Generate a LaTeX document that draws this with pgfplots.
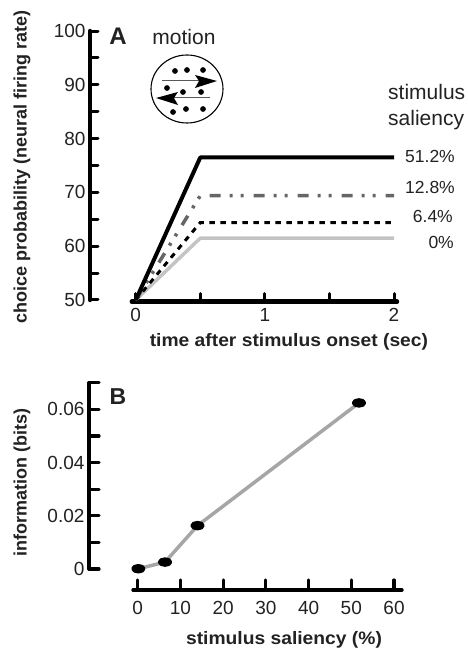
\documentclass[border=0pt]{standalone}
\usepackage{pgfplots}
\pgfplotsset{compat=1.18}
\usepackage{fontspec}
\setmainfont{Liberation Sans}
\usetikzlibrary{arrows.meta}
\definecolor{txt}{HTML}{222222}
\pgfplotsset{
  panel/.style={
    scale only axis, clip=false,
    axis x line*=bottom, axis y line*=left,
    axis line style={draw=none},
    tick align=inside,
    tick style={black,line cap=round},
    /pgf/number format/assume math mode=true,
    scaled y ticks=false,
    tick label style={font=\fontsize{19}{20}\selectfont,text=txt},
    label style={font=\bfseries\fontsize{18}{20}\selectfont,text=txt},
    yticklabel shift=1pt,
  }
}
\begin{document}
\begin{tikzpicture}[x=1pt,y=1pt]
\path[use as bounding box] (0,0) rectangle (468,649);
% Panel A
\begin{axis}[panel,
  at={(90pt,347.3pt)}, anchor=south west,
  width=307pt, height=270.7pt,
  xmin=-0.354, xmax=2.023, ymin=49.68, ymax=100,
  major tick length=8pt,
  tick style={black,line cap=round,line width=3pt},
  xtick={0,0.5,1,1.5,2}, xticklabels={0,,1,,2},
  ytick={50,55,60,65,70,75,80,85,90,95,100},
  yticklabels={50,,60,,70,,80,,90,,100},
  xticklabel shift=3pt,
  xlabel={\scalebox{1.07}[1]{time after stimulus onset (sec)}},
  ylabel={choice probability (neural firing rate)},
  xlabel style={at={(axis description cs:0.648,-0.148)},anchor=center},
  ylabel style={at={(axis description cs:-0.2215,0.498)},anchor=center,rotate=0},
]
\draw[line width=4.5pt,line cap=round] (axis cs:-0.354,50) -- (axis cs:-0.354,100);
\draw[line width=4.5pt,line cap=round] (axis cs:-0.03,49.68) -- (axis cs:2.023,49.68);
\addplot[color=black!23,line width=3.5pt,line join=round] coordinates {(0,50) (0.5,61.5) (2,61.5)};
\addplot[color=black,line width=3pt,dash pattern=on 5.5pt off 5.5pt] coordinates {(0,50) (0.5,64.4) (2,64.4)};
\addplot[color=black!60,line width=3.5pt,dash pattern=on 11pt off 9pt on 3pt off 8pt on 3pt off 10pt] coordinates {(0,50) (0.5,69.4) (2,69.4)};
\addplot[color=black,line width=4pt,line join=round] coordinates {(0,50) (0.5,76.5) (2,76.5)};
% stimulus dots of the motion icon
\addplot[only marks,mark=*,mark size=2.6pt,mark options={fill=black,draw=black}] coordinates {
 (0.304,92.57) (0.397,92.75) (0.521,92.75)
 (0.242,89.4) (0.366,88.66) (0.506,88.66)
 (0.289,84.94) (0.389,85.5) (0.521,85.5)};
\end{axis}
% Panel B
\begin{axis}[panel,
  at={(89pt,59pt)}, anchor=south west,
  width=313pt, height=207.3pt,
  xmin=-11.4, xmax=61.87, ymin=-0.00789, ymax=0.07,
  major tick length=10pt,
  tick style={black,line cap=round,line width=3.2pt},
  xtick={0,10,20,30,40,50,60},
  ytick={0,0.01,0.02,0.03,0.04,0.05,0.06,0.07},
  yticklabels={0,,0.02,,0.04,,0.06,},
  xlabel={\scalebox{1.07}[1]{stimulus saliency (\%)}},
  ylabel={information (bits)},
  xlabel style={at={(axis description cs:0.623,-0.241)},anchor=center},
  ylabel style={at={(axis description cs:-0.214,0.519)},anchor=center,rotate=0},
  xticklabel shift=8pt,
]
\draw[line width=3.4pt,line cap=round] (axis cs:-11.4,0) -- (axis cs:-11.4,0.07);
\draw[line width=3.4pt,line cap=round] (axis cs:-1.1,-0.00789) -- (axis cs:61.87,-0.00789);
\addplot[color=black!35,line width=3.5pt,line join=round,
  mark=*,mark size=4pt,mark options={fill=black,draw=black,yscale=0.75,xscale=1.35}]
  coordinates {(0.15,0.0001) (6.4,0.0026) (14,0.0163) (51.8,0.0624)};
\end{axis}
% Texts and motion icon
\node[font=\bfseries\fontsize{24}{24}\selectfont,text=txt] at (118,613) {A};
\node[font=\bfseries\fontsize{23}{24}\selectfont,text=txt] at (118,252) {B};
\node[font=\fontsize{21}{22}\selectfont,text=txt,anchor=mid] at (184,607) {motion};
\draw[line width=1.1pt] (187,560) ellipse [x radius=36, y radius=34];
\draw[black!65,line width=1pt] (162,568) -- (205,568);
\draw[black!65,line width=1pt] (210,551) -- (165,551);
\draw[fill=black,draw=none] (217,568) -- (195,574) -- (199,568) -- (195,561) -- cycle;
\draw[fill=black,draw=none] (156,551) -- (178,557) -- (174,551) -- (178,544) -- cycle;
\begin{scope}[every node/.style={font=\fontsize{21}{22}\selectfont,text=txt,anchor=mid west}]
\node[inner sep=0] at (388,552) {stimulus};
\node[inner sep=0] at (388,526) {saliency};
\end{scope}
\begin{scope}[every node/.style={font=\fontsize{17.5}{18}\selectfont,text=txt,anchor=mid east,inner sep=0}]
\node at (455,489.5) {51.2\%};
\node at (455,458.5) {12.8\%};
\node at (453,429.5) {6.4\%};
\node at (454,403.5) {0\%};
\end{scope}
\end{tikzpicture}
\end{document}
